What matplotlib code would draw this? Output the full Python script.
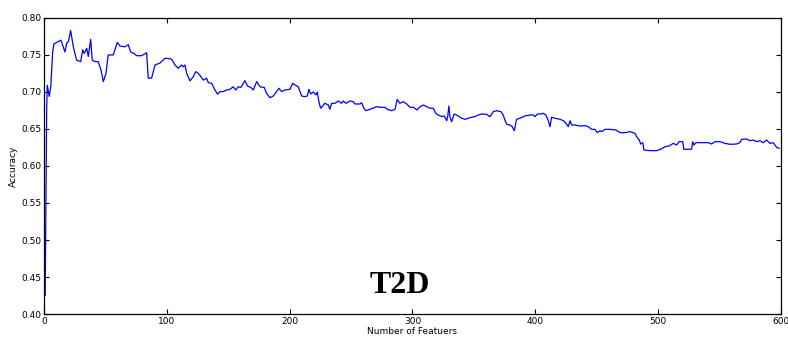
import matplotlib
matplotlib.use('Agg')
import matplotlib.pyplot as plt

# Accuracy vs. number of selected features (T2D)
n_features = [
    1, 2.2, 2.7, 4.3, 5.5, 7.1, 8.1, 11.6, 13.8, 15.7, 17.1, 18.5, 19.9, 21.7,
    22.8, 23.9, 25.2, 26.6, 29.9, 31.5, 32.8, 34.8, 36.1, 38.0, 39.3, 41.5,
    44.2, 46.4, 48.3, 50.5, 52.3, 56.4, 59.7, 61.9, 65.9, 68.6, 70.6, 73.3,
    75.5, 79.5, 83.6, 84.9, 87.7, 90.4, 94.4, 98.5, 102.6,
    104, 106.7, 109.3, 112, 113.4, 114.8, 116.2, 118.9, 121.6, 123.5, 125.6,
    127.8, 129.7, 132.5, 133.8, 136.5, 139.2, 141.4, 143.3, 146, 148.7, 151.4,
    154.1, 156.1, 158.2, 160.4, 163.6, 165.8, 168.5, 170.4, 173.2, 175.9,
    179.4, 181.3, 184, 186.7, 189.4, 191.3, 193.5, 196.2, 200.3,
    202.5, 204.4, 207, 209.8, 212.5, 214.4, 215.7, 217.1, 219.3, 221.4, 222.5,
    224.1, 225.3, 226.9, 228.8, 231.5, 232.8, 234.2, 236.9, 239.6, 242.4,
    243.7, 245.9, 249.1, 251.8, 253.2, 257.3, 258.6, 260.5, 262.1, 265.4,
    269.5, 271.3, 273.5, 277.6, 279.5, 283.1, 285.8, 287.6, 289.8, 292.5,
    295.3, 298, 300.7, 303.9, 305.5,
    308.8, 311.6, 314.3, 317, 318.9, 321, 323.8, 325.9, 327.9, 328.7, 329.7,
    330.5, 331.9, 334, 337.3, 340.1, 342.8, 345.5, 348.2, 350.9, 353.6, 356.4,
    360.4, 363.1, 365.8, 368.6, 372.1, 373.9, 375.3, 376.7, 379.4, 381.3,
    382.9, 384.8, 387.5, 391.6, 395.7, 398.4, 399.7, 401.9, 404.6, 406.5,
    408.7, 410.6, 412, 413.3, 416, 420.1, 422.8, 425, 426.9, 428.3, 429.6,
    432.3, 436.4, 440.5, 443.2, 445.9, 448.6, 450.5, 452.7, 454.1, 456.7,
    460.8, 465.7, 469, 473, 477.1, 481.2, 482.5, 484.7, 485.8, 487.5, 488.5,
    493.4, 498.8, 502.1, 505.6, 509.1,
    512.3, 515.1, 517.2, 520, 521, 524.6, 527.3, 528.2, 529.2, 530.9, 534.1,
    540.9, 543.6, 546.3, 550.4, 554.4, 558.5, 563.9, 566.6, 568, 572.1, 574.8,
    577.5, 580.3, 582.9, 585.6, 588.4, 591, 593.7, 596.5, 598.6,
]
accuracy = [
    0.425, 0.678, 0.709, 0.694, 0.707, 0.754, 0.765, 0.768, 0.770, 0.761,
    0.754, 0.766, 0.768, 0.783, 0.772, 0.761, 0.752, 0.743, 0.741, 0.757,
    0.752, 0.759, 0.748, 0.771, 0.743, 0.741, 0.741, 0.730, 0.714, 0.725,
    0.750, 0.750, 0.767, 0.762, 0.761, 0.764, 0.754, 0.752, 0.749, 0.749,
    0.753, 0.7185, 0.719, 0.7365, 0.739, 0.7455, 0.745,
    0.744, 0.7365, 0.732, 0.7365, 0.734, 0.7365, 0.725, 0.715, 0.7207,
    0.7275, 0.7253, 0.7207, 0.716, 0.7185, 0.7126, 0.7117, 0.7027, 0.697,
    0.7005, 0.7005, 0.7027, 0.7036, 0.707, 0.7027, 0.707, 0.7063, 0.7153,
    0.708, 0.706, 0.7027, 0.714, 0.707, 0.706, 0.698, 0.6923, 0.6946, 0.7005,
    0.705, 0.7005, 0.7027, 0.7036,
    0.7117, 0.7095, 0.707, 0.6946, 0.6937, 0.6946, 0.7036, 0.6973, 0.700,
    0.696, 0.700, 0.6847, 0.678, 0.6811, 0.6847, 0.6824, 0.6766, 0.6847,
    0.6847, 0.6878, 0.6847, 0.6878, 0.6847, 0.6878, 0.6869, 0.6838, 0.6838,
    0.6856, 0.678, 0.6747, 0.6766, 0.6793, 0.6802, 0.6793, 0.6793, 0.6766,
    0.6747, 0.6766, 0.690, 0.6847, 0.6869, 0.6838, 0.6793, 0.6793, 0.6757,
    0.6793,
    0.6824, 0.6802, 0.678, 0.678, 0.6712, 0.6689, 0.6667, 0.6676, 0.6612,
    0.6667, 0.6811, 0.6667, 0.6599, 0.6703, 0.6676, 0.6645, 0.6631, 0.6645,
    0.6658, 0.6667, 0.6689, 0.6703, 0.6698, 0.6667, 0.6734, 0.6747, 0.6734,
    0.6689, 0.6622, 0.6563, 0.6554, 0.6531, 0.6477, 0.6631, 0.6645, 0.6676,
    0.6689, 0.6689, 0.6667, 0.6703, 0.6703, 0.6712,
    0.6689, 0.6612, 0.6531, 0.6658, 0.6645, 0.6631, 0.6613, 0.6577, 0.6531,
    0.6612, 0.6554, 0.6554, 0.654, 0.6545, 0.6531, 0.6495, 0.6495, 0.645,
    0.6477, 0.6464, 0.6495, 0.6495, 0.6486, 0.645, 0.645, 0.6464, 0.6442,
    0.6396, 0.6351, 0.6297, 0.6315, 0.6216, 0.6207, 0.6207, 0.6225, 0.6261,
    0.627,
    0.6306, 0.6284, 0.6329, 0.6329, 0.6226, 0.6226, 0.6226, 0.6329, 0.6284,
    0.6315, 0.6315, 0.6315, 0.6297, 0.6329, 0.6329, 0.6306, 0.6293, 0.6297,
    0.6315, 0.636, 0.6365, 0.6342, 0.6351, 0.6329, 0.6342, 0.6315, 0.6351,
    0.6306, 0.6315, 0.6253, 0.6239,
]

x_ticks = [0, 100, 200, 300, 400, 500, 600]
y_ticks = [0.40, 0.45, 0.50, 0.55, 0.60, 0.65, 0.70, 0.75, 0.80]

fig = plt.figure(figsize=(7.88, 3.39), dpi=100)
ax = fig.add_axes([0.0558, 0.0737, 0.9352, 0.8733])

ax.plot(n_features, accuracy, color='b', linewidth=0.9)

ax.set_xlim(0, 600)
ax.set_ylim(0.40, 0.80)
ax.set_xticks(x_ticks)
ax.set_yticks(y_ticks)
ax.set_yticklabels(['%.2f' % v for v in y_ticks])
ax.tick_params(direction='in', top=True, right=True, length=3.5, width=0.8,
               labelsize=6.5, pad=2)
for spine in ax.spines.values():
    spine.set_linewidth(0.9)

ax.set_xlabel('Number of Featuers', fontsize=6.5, labelpad=1)
ax.set_ylabel('Accuracy', fontsize=6.5, labelpad=2)

ax.text(0.483, 0.095, 'T2D', transform=ax.transAxes, ha='center', va='center',
        fontsize=23, fontweight='bold', family='Liberation Serif')

fig.savefig('out.png', dpi=100)
